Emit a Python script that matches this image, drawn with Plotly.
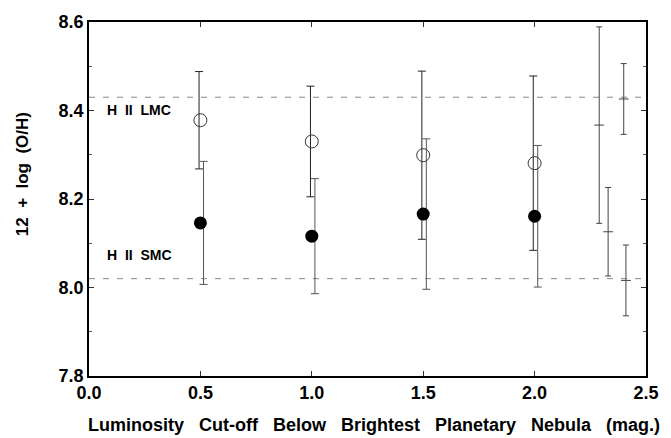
import plotly.graph_objects as go

# Data
cutoff = [0.5, 1.0, 1.5, 2.0]
lmc_pn = [8.378, 8.330, 8.299, 8.281]
lmc_pn_err = [0.110, 0.125, 0.190, 0.197]
smc_pn = [8.146, 8.116, 8.166, 8.161]
smc_pn_err = [0.139, 0.130, 0.170, 0.160]

hii_x = [2.29, 2.33, 2.40, 2.41]
hii_y = [8.367, 8.126, 8.426, 8.016]
hii_err = [0.222, 0.100, 0.080, 0.080]

hii_lmc = 8.43
hii_smc = 8.02

x_ticks = [0.0, 0.5, 1.0, 1.5, 2.0, 2.5]
y_ticks = [7.8, 8.0, 8.2, 8.4, 8.6]

FONT = "Liberation Sans, Arial, sans-serif"

fig = go.Figure()

# reference lines
for yv in (hii_lmc, hii_smc):
    fig.add_trace(go.Scatter(x=[0, 2.5], y=[yv, yv], mode="lines",
                             line=dict(color="#888888", width=1, dash="6px,8px"),
                             hoverinfo="skip", showlegend=False))

# error bars (slightly offset like the original)
fig.add_trace(go.Scatter(x=[v - 0.006 for v in cutoff], y=lmc_pn, mode="markers",
                         marker=dict(size=1, opacity=0),
                         error_y=dict(type="data", array=lmc_pn_err, color="#222222",
                                      thickness=1, width=4),
                         showlegend=False))
fig.add_trace(go.Scatter(x=[v + 0.014 for v in cutoff], y=smc_pn, mode="markers",
                         marker=dict(size=1, opacity=0),
                         error_y=dict(type="data", array=smc_pn_err, color="#555555",
                                      thickness=1, width=4),
                         showlegend=False))
# H II ranges
fig.add_trace(go.Scatter(x=hii_x, y=hii_y, mode="markers",
                         marker=dict(symbol="line-ew", size=7, color="#444444",
                                     line=dict(color="#444444", width=1)),
                         error_y=dict(type="data", array=hii_err, color="#444444",
                                      thickness=1, width=3),
                         showlegend=False))

# points
fig.add_trace(go.Scatter(x=cutoff, y=lmc_pn, mode="markers",
                         marker=dict(symbol="circle-open", size=13, color="#333333",
                                     line=dict(color="#333333", width=1)),
                         showlegend=False))
fig.add_trace(go.Scatter(x=cutoff, y=smc_pn, mode="markers",
                         marker=dict(symbol="circle", size=13, color="black",
                                     line=dict(color="black", width=0)),
                         showlegend=False))

axis_common = dict(showline=True, linecolor="black", linewidth=1.5, mirror="ticks",
                   ticks="inside", tickcolor="#333333", ticklen=5, tickwidth=1,
                   showgrid=False, zeroline=False,
                   tickfont=dict(family=FONT, size=18, color="black", weight="bold"))

fig.update_xaxes(range=[0, 2.5], tickvals=x_ticks,
                 ticktext=[f"{v:.1f}" for v in x_ticks], **axis_common)
fig.update_yaxes(range=[7.8, 8.6], tickvals=y_ticks,
                 ticktext=[f"{v:.1f}" for v in y_ticks],
                 minor=dict(ticks="inside", ticklen=3, tickcolor="#555555", dtick=0.1),
                 **axis_common)

fig.add_annotation(x=0.07, y=8.402, xref="x", yref="y", xanchor="left", showarrow=False,
                   text="H\u00a0\u00a0II\u00a0\u00a0LMC",
                   font=dict(family=FONT, size=14, color="black", weight="bold"))
fig.add_annotation(x=0.07, y=8.074, xref="x", yref="y", xanchor="left", showarrow=False,
                   text="H\u00a0\u00a0II\u00a0\u00a0SMC",
                   font=dict(family=FONT, size=14, color="black", weight="bold"))

sp = "\u00a0\u00a0\u00a0"
fig.add_annotation(x=0.512, y=0, xref="paper", yref="paper", yanchor="top", yshift=-37,
                   showarrow=False,
                   text=sp.join(["Luminosity", "Cut-off", "Below", "Brightest",
                                 "Planetary", "Nebula", "(mag.)"]),
                   font=dict(family=FONT, size=18, color="black", weight="bold"))
fig.add_annotation(x=0, y=0.57, xref="paper", yref="paper", xanchor="center",
                   xshift=-67, textangle=-90, showarrow=False,
                   text="12\u00a0\u00a0+\u00a0\u00a0log\u00a0\u00a0(O/H)",
                   font=dict(family=FONT, size=17, color="black", weight="bold"))

fig.update_layout(width=671, height=438, margin=dict(l=89, r=15, t=20, b=62),
                  plot_bgcolor="white", paper_bgcolor="white")

fig.write_html("out.html")
